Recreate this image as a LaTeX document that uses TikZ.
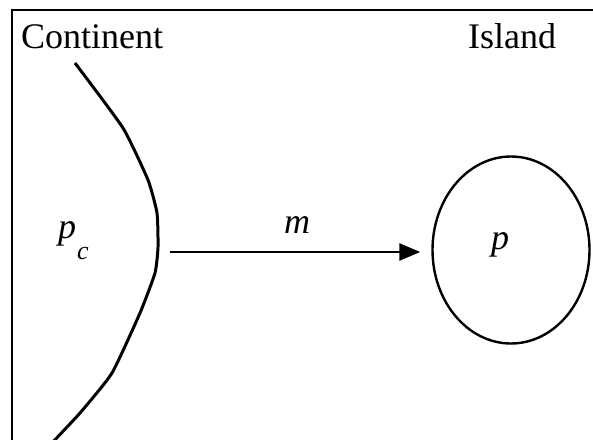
\documentclass[tikz,border=0pt]{standalone}
\usepackage{fontspec}
\setmainfont{Liberation Serif}
\usetikzlibrary{shapes.geometric,arrows.meta}
\tikzset{
  lbl/.style={inner sep=0pt, font=\fontsize{36}{40}\selectfont},
  ilbl/.style={inner sep=0pt, font=\fontsize{36}{40}\selectfont\itshape},
  sublbl/.style={inner sep=0pt, font=\fontsize{26}{30}\selectfont\itshape},
  frameline/.style={line width=2.4pt},
  coastline/.style={line width=3pt, line join=round},
  flow/.style={line width=2.6pt, -{Triangle[length=21pt,width=17pt]}}
}
\begin{document}
\begin{tikzpicture}[x=1pt,y=-1pt]
\useasboundingbox (0,0) rectangle (593,439);
\begin{scope}
\clip (0,0) rectangle (593,439);
\draw[frameline] (12,445) -- (12,10) -- (600,10);
\draw[coastline] plot[smooth, tension=0.3] coordinates
  {(75,63) (123,128) (148,180) (157,213) (158,247) (155,273) (140,313) (112,373) (80,413) (50,445)};
\end{scope}
\node[lbl, anchor=base west] (cont) at (21,48) {Continent};
\node[lbl, anchor=base west] (isl) at (468,48) {Island};
\node[draw, line width=2.4pt, ellipse, minimum width=157pt, minimum height=187pt] (island) at (511,250) {};
\node[ilbl, anchor=base] (p) at (500,249) {p};
\node[ilbl, anchor=base] (pc) at (67,238) {p};
\node[sublbl, anchor=base] (c) at (83,259) {c};
\coordinate (coast) at (170,252);
\draw[flow, shorten >=11pt] (coast) -- (coast -| island.west);
\node[ilbl, anchor=base] (m) at (297,233) {m};
\end{tikzpicture}
\end{document}
